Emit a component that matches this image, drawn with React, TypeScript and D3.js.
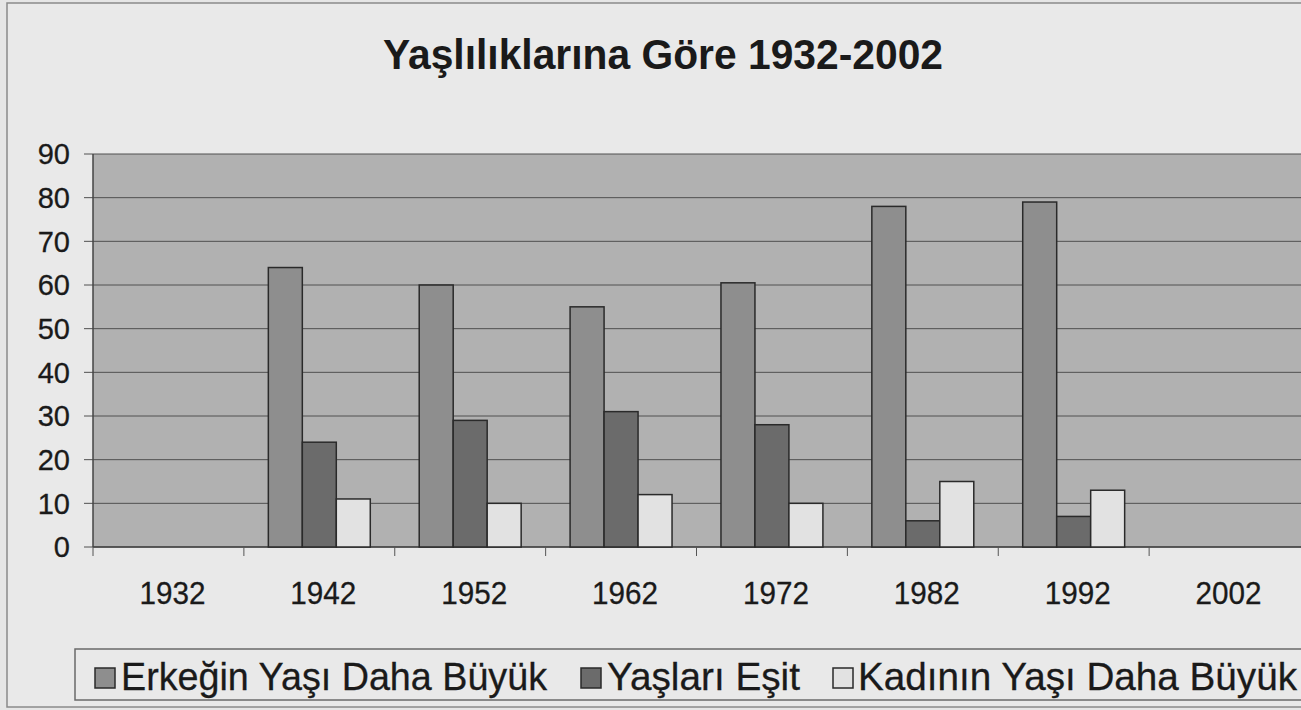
import React from "react";
import * as d3 from "d3";

const years = ["1932", "1942", "1952", "1962", "1972", "1982", "1992", "2002"];
const seriesNames = ["Erkeğin Yaşı Daha Büyük", "Yaşları Eşit", "Kadının Yaşı Daha Büyük"];
const erkekBuyuk: (number | null)[] = [null, 64, 60, 55, 60.5, 78, 79, null];
const yaslarEsit: (number | null)[] = [null, 24, 29, 31, 28, 6, 7, null];
const kadinBuyuk: (number | null)[] = [null, 11, 10, 12, 10, 15, 13, null];
const yTicks = [0, 10, 20, 30, 40, 50, 60, 70, 80, 90];
const title = "Yaşlılıklarına Göre 1932-2002";

const seriesValues = [erkekBuyuk, yaslarEsit, kadinBuyuk];
const colors = ["#8e8e8e", "#6b6b6b", "#e2e2e2"];

const W = 1301;
const H = 710;
const left = 93, right = 1300, top = 154, bottom = 547;
const font = "'Liberation Sans', Arial, sans-serif";

export default function App() {
  const x = d3.scaleBand<string>().domain(years).range([left, right]).padding(0);
  const inner = d3
    .scaleBand<string>()
    .domain(seriesNames)
    .range([0, x.bandwidth()])
    .paddingInner(0)
    .paddingOuter(0.72);
  const y = d3.scaleLinear().domain([0, 90]).range([bottom, top]);

  const legendItems = [
    { sq: 95, tx: 121 },
    { sq: 581, tx: 607 },
    { sq: 833, tx: 858 },
  ];

  return (
    <svg
      width={W}
      height={H}
      style={{ position: "absolute", left: 0, top: 0, background: "#e6e6e6" }}
      fontFamily={font}
    >
      <rect x={0} y={0} width={W} height={H} fill="#e6e6e6" />
      <rect x={7} y={3} width={W + 10} height={704} fill="#e9e9e9" stroke="#8a8a8a" strokeWidth={1.5} />
      <text
        x={663}
        y={69}
        textAnchor="middle"
        fontSize={42}
        fontWeight="bold"
        fill="#1a1a1a"
        textLength={560}
        lengthAdjust="spacingAndGlyphs"
      >
        {title}
      </text>

      {/* plot area */}
      <rect x={left} y={top} width={right - left + 5} height={bottom - top} fill="#b1b1b1" />
      {/* gridlines */}
      {yTicks.map((t) => (
        <line key={"g" + t} x1={left - 9} x2={W} y1={y(t)} y2={y(t)} stroke="#505050" strokeWidth={1} />
      ))}
      {/* y axis */}
      <line x1={left} x2={left} y1={top} y2={bottom} stroke="#444" strokeWidth={1.5} />
      {yTicks.map((t) => (
        <text
          key={"yt" + t}
          x={70}
          y={y(t)}
          dy="0.36em"
          textAnchor="end"
          fontSize={29}
          fill="#1a1a1a"
          stroke="#1a1a1a"
          strokeWidth={0.3}
        >
          {t}
        </text>
      ))}
      {/* x axis */}
      <line x1={left} x2={W} y1={bottom} y2={bottom} stroke="#444" strokeWidth={1.5} />
      {years.map((yr) => (
        <line
          key={"xt" + yr}
          x1={x(yr)!}
          x2={x(yr)!}
          y1={bottom}
          y2={bottom + 9}
          stroke="#555"
          strokeWidth={1}
        />
      ))}
      {years.map((yr) => (
        <text
          key={"xl" + yr}
          x={x(yr)! + x.bandwidth() / 2 + 4}
          y={604}
          textAnchor="middle"
          fontSize={32}
          fill="#1a1a1a"
          stroke="#1a1a1a"
          strokeWidth={0.3}
          textLength={66}
          lengthAdjust="spacingAndGlyphs"
        >
          {yr}
        </text>
      ))}

      {/* bars */}
      {seriesNames.map((s, si) =>
        years.map((yr, i) => {
          const v = seriesValues[si][i];
          if (v === null) return null;
          return (
            <rect
              key={s + yr}
              x={x(yr)! + inner(s)!}
              y={y(v)}
              width={inner.bandwidth()}
              height={bottom - y(v)}
              fill={colors[si]}
              stroke="#2a2a2a"
              strokeWidth={1.5}
            />
          );
        })
      )}

      {/* legend */}
      <rect x={75} y={649} width={W} height={51} fill="#e9e9e9" stroke="#6a6a6a" strokeWidth={1.5} />
      {seriesNames.map((s, si) => (
        <g key={"lg" + s}>
          <rect
            x={legendItems[si].sq}
            y={668}
            width={20}
            height={20}
            fill={colors[si]}
            stroke="#2a2a2a"
            strokeWidth={1.5}
          />
          <text
            x={legendItems[si].tx}
            y={690}
            fontSize={39}
            fill="#1a1a1a"
            stroke="#1a1a1a"
            strokeWidth={0.3}
            textLength={si === 0 ? 426 : si === 1 ? 193 : 439}
            lengthAdjust="spacingAndGlyphs"
          >
            {s}
          </text>
        </g>
      ))}
    </svg>
  );
}
